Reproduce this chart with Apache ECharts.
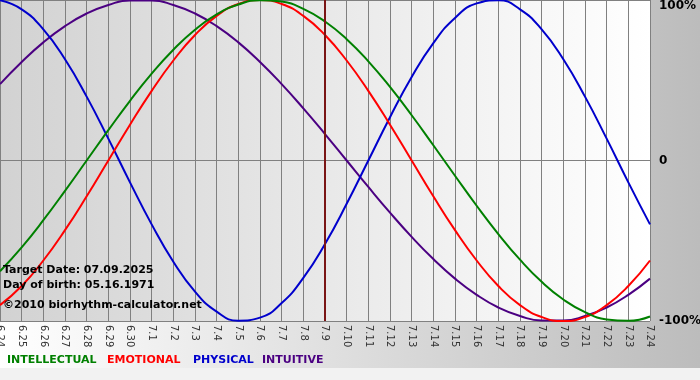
<!DOCTYPE html>
<html>
<head>
<meta charset="utf-8">
<script src="https://cdn.jsdelivr.net/npm/echarts@6/dist/echarts.min.js"></script>
<style>
html,body{margin:0;padding:0;background:#fff;}
#chart{width:700px;height:380px;}
</style>
</head>
<body>
<div id="chart"></div>
<script>
var days = ['6.24','6.25','6.26','6.27','6.28','6.29','6.30','7.1','7.2','7.3','7.4','7.5','7.6','7.7','7.8','7.9','7.10','7.11','7.12','7.13','7.14','7.15','7.16','7.17','7.18','7.19','7.20','7.21','7.22','7.23','7.24'];
var intellectual = [-69.0,-54.1,-37.2,-18.9,0,18.9,37.2,54.1,69.0,81.5,91.0,97.2,99.9,99.0,94.5,86.6,75.6,61.8,45.8,28.2,9.5,-9.5,-28.2,-45.8,-61.8,-75.6,-86.6,-94.5,-99.0,-99.9,-97.2];
var emotional = [-90.1,-78.2,-62.3,-43.4,-22.3,0,22.3,43.4,62.3,78.2,90.1,97.5,100,97.5,90.1,78.2,62.3,43.4,22.3,0,-22.3,-43.4,-62.3,-78.2,-90.1,-97.5,-100,-97.5,-90.1,-78.2,-62.3];
var physical = [99.8,94.2,81.7,63.1,39.8,13.6,-13.6,-39.8,-63.1,-81.7,-94.2,-99.8,-97.9,-88.8,-73.1,-52.0,-27.0,0,27.0,52.0,73.1,88.8,97.9,99.8,94.2,81.7,63.1,39.8,13.6,-13.6,-39.8];
var intuitive = [47.6,61.4,73.6,83.7,91.6,96.9,99.7,99.7,96.9,91.6,83.7,73.6,61.4,47.6,32.5,16.5,0,-16.5,-32.5,-47.6,-61.4,-73.6,-83.7,-91.6,-96.9,-99.7,-99.7,-96.9,-91.6,-83.7,-73.6];
var targetDay = '7.9';
var infoLines = ['Target Date: 07.09.2025','Day of birth: 05.16.1971','\u00a92010 biorhythm-calculator.net'];
var legendNames = ['INTELLECTUAL','EMOTIONAL','PHYSICAL','INTUITIVE'];
var colors = {INTELLECTUAL:'#008000',EMOTIONAL:'#ff0000',PHYSICAL:'#0000cc',INTUITIVE:'#4b0082'};

var FONT = '"DejaVu Sans", Verdana, sans-serif';
var chart = echarts.init(document.getElementById('chart'), null, {renderer:'canvas'});

function line(name, data, extra){
  var s = {
    name:name, type:'line', data:data, smooth:true, symbol:'none',
    lineStyle:{color:colors[name], width:2}, itemStyle:{color:colors[name]},
    z:3, animation:false
  };
  if (extra) for (var k in extra) s[k]=extra[k];
  return s;
}

var legendX = [7,107,193,262];
var graphics = [
  {type:'rect', left:0, top:368, shape:{width:700,height:12}, style:{fill:'#f2f2f2'}, silent:true, z:-1}
];
infoLines.forEach(function(t,i){
  graphics.push({type:'text', left:3, top:[265,280,300][i], style:{text:t, font:'bold 11px '+FONT, fill:'#000'}, z:10});
});
legendNames.forEach(function(n,i){
  graphics.push({type:'text', left:legendX[i], top:355, style:{text:n, font:'bold 11px '+FONT, fill:colors[n]}, z:10});
});

chart.setOption({
  animation:false,
  backgroundColor:{type:'linear',x:0,y:0,x2:1,y2:0,colorStops:[{offset:0,color:'#ffffff'},{offset:1,color:'#bcbcbc'}]},
  grid:{left:0, top:0, width:650, height:321, show:true, borderWidth:0, containLabel:false, outerBoundsMode:'none',
    backgroundColor:{type:'linear',x:0,y:0,x2:1,y2:0,colorStops:[{offset:0,color:'#d2d2d2'},{offset:1,color:'#ffffff'}]}},
  xAxis:{type:'category', data:days, boundaryGap:false,
    axisLine:{show:true, lineStyle:{color:'#808080', width:1}},
    axisTick:{show:true, length:3, interval:0, lineStyle:{color:'#808080'}},
    splitLine:{show:true, interval:0, lineStyle:{color:'#808080', width:1}},
    axisLabel:{interval:0, rotate:-90, margin:4, fontSize:10, fontFamily:FONT, color:'#333'}},
  yAxis:{type:'value', position:'right', min:-100, max:100, interval:100,
    axisLine:{show:false}, axisTick:{show:false},
    splitLine:{show:true, lineStyle:{color:'#808080', width:1}},
    axisLabel:{margin:9, fontSize:12, fontWeight:'bold', fontFamily:FONT, color:'#000',
      verticalAlignMaxLabel:'top',
      formatter:function(v){return v===0?'0':v+'%';}}},
  graphic:graphics,
  series:[
    line('INTUITIVE', intuitive),
    line('PHYSICAL', physical),
    line('EMOTIONAL', emotional),
    line('INTELLECTUAL', intellectual, {
      markLine:{silent:true, symbol:'none', label:{show:false},
        lineStyle:{color:'#7a1515', width:2, type:'solid'},
        data:[{xAxis:targetDay}]}
    })
  ]
});
</script>
</body>
</html>
